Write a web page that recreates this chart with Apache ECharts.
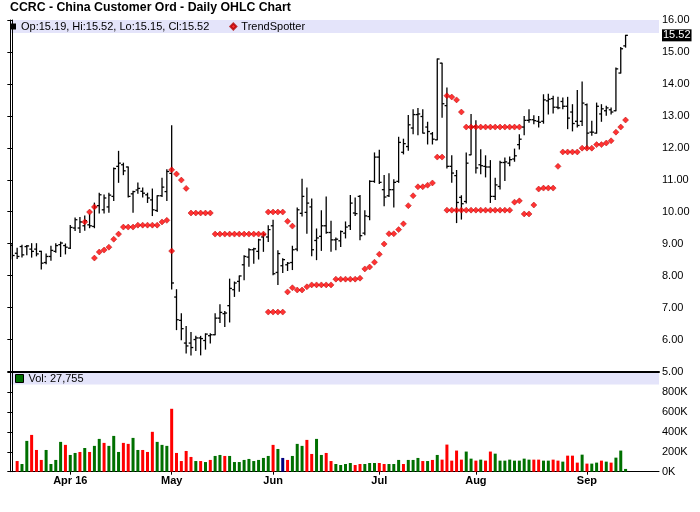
<!DOCTYPE html>
<html><head><meta charset="utf-8">
<script src="https://cdn.jsdelivr.net/npm/echarts@6/dist/echarts.min.js"></script>
<style>html,body{margin:0;padding:0;background:#fff}#c{width:700px;height:512px}</style>
</head><body><div id="c"></div>
<script>
const _ = null;
const dates = [
'2016-03-15','2016-03-16','2016-03-17','2016-03-18','2016-03-21','2016-03-22','2016-03-23','2016-03-24','2016-03-28','2016-03-29','2016-03-30','2016-03-31',
'2016-04-01','2016-04-04','2016-04-05','2016-04-06','2016-04-07','2016-04-08','2016-04-11','2016-04-12','2016-04-13','2016-04-14','2016-04-15','2016-04-18','2016-04-19','2016-04-20','2016-04-21','2016-04-22','2016-04-25','2016-04-26','2016-04-27','2016-04-28','2016-04-29',
'2016-05-02','2016-05-03','2016-05-04','2016-05-05','2016-05-06','2016-05-09','2016-05-10','2016-05-11','2016-05-12','2016-05-13','2016-05-16','2016-05-17','2016-05-18','2016-05-19','2016-05-20','2016-05-23','2016-05-24','2016-05-25','2016-05-26','2016-05-27','2016-05-31',
'2016-06-01','2016-06-02','2016-06-03','2016-06-06','2016-06-07','2016-06-08','2016-06-09','2016-06-10','2016-06-13','2016-06-14','2016-06-15','2016-06-16','2016-06-17','2016-06-20','2016-06-21','2016-06-22','2016-06-23','2016-06-24','2016-06-27','2016-06-28','2016-06-29','2016-06-30',
'2016-07-01','2016-07-05','2016-07-06','2016-07-07','2016-07-08','2016-07-11','2016-07-12','2016-07-13','2016-07-14','2016-07-15','2016-07-18','2016-07-19','2016-07-20','2016-07-21','2016-07-22','2016-07-25','2016-07-26','2016-07-27','2016-07-28','2016-07-29',
'2016-08-01','2016-08-02','2016-08-03','2016-08-04','2016-08-05','2016-08-08','2016-08-09','2016-08-10','2016-08-11','2016-08-12','2016-08-15','2016-08-16','2016-08-17','2016-08-18','2016-08-19','2016-08-22','2016-08-23','2016-08-24','2016-08-25','2016-08-26','2016-08-29','2016-08-30','2016-08-31',
'2016-09-01','2016-09-02','2016-09-06','2016-09-07','2016-09-08','2016-09-09','2016-09-12','2016-09-13','2016-09-14'
];
const opens = [
8.95,8.70,8.91,8.91,8.83,8.83,8.76,8.41,8.60,8.76,
8.97,8.94,8.86,9.49,9.49,9.56,9.59,9.54,10.19,10.06,
10.15,10.48,11.42,11.47,11.40,10.56,10.68,10.64,10.53,10.37,
10.04,10.50,10.63,11.20,7.33,6.60,5.89,5.89,6.00,6.05,
5.97,6.12,6.15,6.67,6.81,7.06,7.56,7.82,8.34,8.58,
8.81,8.76,9.21,9.21,9.56,8.10,8.31,8.34,8.41,8.83,
9.95,9.98,10.15,9.10,9.23,9.56,9.35,9.12,9.09,9.33,
9.56,9.96,10.48,9.33,9.85,10.95,11.71,10.69,10.50,10.69,
10.95,11.86,12.04,12.62,13.04,12.98,12.65,12.44,12.25,14.65,
13.32,11.42,11.13,10.45,10.32,11.78,12.67,11.47,11.42,11.40,
10.48,10.79,11.54,11.52,11.65,12.10,12.65,12.86,12.88,12.83,
12.83,13.47,13.54,13.27,13.45,13.30,13.12,12.83,12.83,13.35,
12.49,12.46,13.06,13.16,13.19,13.16,14.34,15.19
];
const highs = [
9.00,8.86,8.95,8.94,9.00,9.00,8.76,8.68,8.92,9.00,
9.05,8.99,9.57,9.80,9.82,9.87,9.92,10.27,10.58,10.52,
10.58,11.37,11.89,11.52,11.40,10.64,10.90,10.74,10.58,10.71,
10.50,11.05,11.31,12.69,7.56,6.81,6.41,6.22,6.10,6.10,
6.18,6.18,6.81,7.09,6.88,7.89,7.80,7.99,8.62,8.84,
8.86,9.14,9.33,9.56,9.73,8.78,8.53,8.41,8.92,10.12,
11.02,10.74,10.40,9.46,10.03,10.46,9.70,9.18,9.40,9.68,
10.51,10.43,10.51,10.03,10.97,11.84,11.92,11.13,11.19,11.00,
12.33,12.27,13.01,13.19,13.23,13.19,12.80,12.48,14.78,14.65,
13.87,11.75,11.29,10.50,11.84,13.04,12.85,11.94,11.75,11.60,
11.05,11.58,11.68,11.71,11.96,12.41,12.98,13.19,13.00,12.98,
13.66,13.68,13.61,13.58,13.56,13.58,13.35,13.79,14.06,13.37,
12.83,13.40,13.35,13.30,13.25,14.50,15.14,15.52
];
const lows = [
8.52,8.54,8.58,8.65,8.58,8.62,8.21,8.37,8.48,8.73,
8.60,8.68,8.85,9.41,9.35,9.42,9.50,9.50,9.96,9.96,
9.98,10.35,10.92,11.16,10.46,9.98,10.58,10.46,10.29,9.88,
10.01,10.48,10.35,7.58,6.31,5.99,5.58,5.52,5.66,5.52,
5.70,5.89,6.15,6.53,6.41,6.55,7.35,7.51,7.87,8.29,
8.39,8.52,8.76,9.07,8.03,7.72,8.10,8.16,8.19,8.78,
9.87,9.33,8.62,8.50,8.79,9.33,8.76,8.81,8.91,9.18,
9.44,9.88,9.12,9.28,9.75,10.92,10.88,10.19,10.48,10.15,
10.92,11.81,11.92,12.44,12.41,12.46,12.12,12.12,12.25,12.96,
11.37,10.92,9.66,9.77,10.27,11.78,11.21,11.19,11.09,10.29,
10.38,10.71,10.98,11.44,11.58,11.96,12.41,12.80,12.75,12.65,
12.77,13.06,13.09,13.22,13.22,12.60,12.53,12.65,12.70,11.99,
12.39,12.46,12.83,13.02,13.06,13.16,14.34,15.15
];
const closes = [
8.63,8.60,8.65,8.93,8.76,8.68,8.39,8.60,8.79,8.94,
9.02,8.89,9.51,9.75,9.68,9.72,9.56,10.15,10.53,10.43,
10.52,11.35,11.52,11.28,10.48,10.63,10.73,10.58,10.43,10.06,
10.50,10.77,11.26,7.77,6.62,6.34,5.80,5.75,6.05,6.03,
6.17,6.15,6.67,6.85,6.83,7.60,7.77,7.99,8.60,8.81,
8.84,9.12,9.28,9.44,8.06,8.69,8.50,8.39,8.81,10.06,
10.48,10.27,8.81,9.18,9.56,9.35,9.12,9.14,9.38,9.52,
10.27,9.94,9.25,9.87,10.95,11.71,10.92,10.46,10.69,10.92,
12.17,12.13,12.72,13.04,13.06,12.46,12.51,12.27,14.78,13.38,
11.42,11.21,10.29,10.25,11.52,12.65,11.37,11.44,11.40,10.48,
10.84,11.54,11.56,11.63,11.75,12.27,12.86,12.88,12.85,12.80,
13.50,13.52,13.27,13.25,13.30,12.93,12.76,12.70,13.40,12.46,
12.49,13.30,13.22,13.25,13.12,14.47,15.10,15.52
];
const trendSpotter = [
_,_,_,_,_,_,_,_,_,_,
_,_,_,_,_,9.68,9.99,8.55,8.74,8.80,
8.89,9.14,9.30,9.52,9.52,9.52,9.58,9.58,9.58,9.58,
9.58,9.68,9.73,11.31,11.18,10.99,10.73,9.96,9.96,9.96,
9.96,9.96,9.30,9.30,9.30,9.30,9.30,9.30,9.30,9.30,
9.30,9.30,9.30,9.99,9.99,9.99,9.99,9.70,9.55,7.55,
7.55,7.65,7.71,7.71,7.71,7.71,7.71,7.89,7.89,7.89,
7.89,7.89,7.92,8.21,8.27,8.42,8.67,8.99,9.31,9.31,
9.44,9.62,10.19,10.50,10.78,10.78,10.83,10.90,11.71,11.71,
13.63,13.59,13.50,13.12,12.65,12.65,12.65,12.65,12.65,12.65,
12.65,12.65,12.65,12.65,12.65,12.65,9.93,9.93,10.21,10.71,
10.74,10.74,10.74,11.42,11.87,11.87,11.87,11.87,11.99,11.99,
11.99,12.10,12.10,12.15,12.22,12.49,12.65,12.87
];
const trendSpotter2 = [
_,_,_,_,_,_,_,_,_,_,
_,_,_,_,_,_,_,10.15,_,_,
_,_,_,_,_,_,_,_,_,_,
_,_,_,8.77,_,_,_,_,_,_,
_,_,_,_,_,_,_,_,_,_,
_,_,_,6.86,6.86,6.86,6.86,7.49,7.62,_,
_,_,_,_,_,_,_,_,_,_,
_,_,_,_,_,_,_,_,_,_,
_,_,_,_,_,_,_,_,_,_,
10.05,10.05,10.05,10.05,10.05,10.05,10.05,10.05,10.05,10.05,
10.05,10.05,10.05,10.05,10.30,10.34,_,_,_,_,
_,_,_,_,_,_,_,_,_,_,
_,_,_,_,_,_,_,_
];
const volumes = [
_,107000,77000,309000,369000,218000,118000,218000,77000,118000,
299000,269000,168000,188000,198000,238000,198000,259000,329000,289000,
259000,359000,198000,289000,279000,339000,218000,218000,198000,400000,
299000,269000,259000,631000,188000,107000,208000,148000,107000,107000,
97000,118000,158000,168000,158000,158000,97000,97000,118000,128000,
107000,118000,138000,158000,269000,228000,138000,118000,158000,279000,
259000,319000,178000,329000,168000,188000,107000,77000,67000,77000,
87000,67000,77000,77000,87000,87000,87000,77000,77000,77000,
118000,77000,118000,118000,138000,107000,107000,118000,168000,121000,
272000,111000,212000,121000,202000,131000,111000,121000,111000,202000,
181000,111000,111000,121000,111000,111000,131000,121000,121000,121000,
111000,111000,121000,111000,101000,161000,161000,91000,171000,81000,
81000,91000,111000,101000,91000,141000,212000,27755
];
const volumeDir = [
'u','d','u','u','d','d','d','u','u','u',
'u','d','u','u','d','u','d','u','u','d',
'u','u','u','d','d','u','u','d','d','d',
'u','u','u','d','d','d','d','d','u','d',
'u','d','u','u','d','u','u','u','u','u',
'u','u','u','u','d','u','n','d','u','u',
'u','d','d','u','u','d','d','u','u','u',
'u','d','d','u','u','u','d','d','u','u',
'u','d','u','u','u','d','u','d','u','d',
'd','d','d','d','u','u','d','u','d','d',
'u','u','u','u','u','u','u','u','d','d',
'u','u','d','d','u','d','d','d','u','d',
'u','u','d','u','d','u','u','u'
];
const priceTicks = {min: 5, max: 16, interval: 1};
const volumeTicks = {min: 0, max: 1000000, interval: 200000};
const monthNames = ['Jan','Feb','Mar','Apr','May','Jun','Jul','Aug','Sep','Oct','Nov','Dec'];

// ---- layout / style ----
const FONT = '"Liberation Sans", Arial, Helvetica, sans-serif';
const L = 10, R = 41;
const P_TOP = 20, P_BOTTOM = 140.5;
const V_TOP = 372, V_BOTTOM = 40.3;
const UP = '#007000', DOWN = '#ff0000', FLAT = '#000080';
const X_MIN = -0.48, X_MAX = 133.92;

const N = dates.length;
const last = N - 1;
const monthStartLabel = {};
let firstMonth = true;
for (let i = 1; i < N; i++) {
  if (dates[i].slice(5, 7) !== dates[i - 1].slice(5, 7)) {
    const m = +dates[i].slice(5, 7);
    monthStartLabel[i] = monthNames[m - 1] + (firstMonth ? ' ' + dates[i].slice(2, 4) : '');
    firstMonth = false;
  }
}
const monthIdx = Object.keys(monthStartLabel).map(Number);

const ohlcData = dates.map((d, i) => [i, opens[i], highs[i], lows[i], closes[i]]);
const trendData = [];
trendSpotter.forEach((v, i) => { if (v != null) trendData.push([i, v]); });
trendSpotter2.forEach((v, i) => { if (v != null) trendData.push([i, v]); });
const dirColor = {u: UP, d: DOWN, n: FLAT};
const volData = volumes.map((v, i) => ({value: [i, v], itemStyle: {color: dirColor[volumeDir[i]]}}));

const ohlcName = 'Op:' + opens[last].toFixed(2) + ', Hi:' + highs[last].toFixed(2) +
  ', Lo:' + lows[last].toFixed(2) + ', Cl:' + closes[last].toFixed(2);
const volName = 'Vol: ' + volumes[last].toLocaleString('en-US');

function renderOHLC(params, api) {
  const i = api.value(0);
  const o = api.coord([i, api.value(1)]);
  const h = api.coord([i, api.value(2)]);
  const l = api.coord([i, api.value(3)]);
  const c = api.coord([i, api.value(4)]);
  const x = h[0];
  const t = 2.3;
  const st = {stroke: '#000', lineWidth: 1.3};
  return {type: 'group', children: [
    {type: 'line', shape: {x1: x, y1: h[1] - 0.5, x2: x, y2: l[1] + 0.5}, style: st},
    {type: 'line', shape: {x1: x - t, y1: o[1], x2: x, y2: o[1]}, style: st},
    {type: 'line', shape: {x1: x, y1: c[1], x2: x + t, y2: c[1]}, style: st}
  ]};
}

const chart = echarts.init(document.getElementById('c'));
const axisBlack = {show: true, lineStyle: {color: '#000', width: 1}};
chart.setOption({
  animation: false,
  backgroundColor: '#fff',
  textStyle: {fontFamily: FONT, color: '#000'},
  title: {
    text: 'CCRC - China Customer Ord - Daily OHLC Chart',
    left: 10, top: 2, padding: 0,
    textStyle: {fontSize: 12.3, fontWeight: 'bold', color: '#000', fontFamily: FONT}
  },
  graphic: [
    {type: 'rect', z: 0, shape: {x: L, y: P_TOP, width: 700 - L - R, height: 13}, style: {fill: '#e4e4fa'}},
    {type: 'rect', z: 0, shape: {x: L, y: V_TOP + 0.5, width: 700 - L - R, height: 12}, style: {fill: '#e4e4fa'}}
  ],
  legend: [
    {
      left: 10, top: 20, padding: 0, itemGap: 20, itemWidth: 6, itemHeight: 6, selectedMode: false,
      textStyle: {fontSize: 11, color: '#000', lineHeight: 13, fontFamily: FONT},
      data: [
        {name: ohlcName, icon: 'rect', itemStyle: {color: '#000'}},
        {name: 'TrendSpotter', icon: 'diamond', itemStyle: {color: '#ff0000'}}
      ]
    },
    {
      left: 15, top: 372, padding: 0, itemWidth: 8, itemHeight: 8, selectedMode: false,
      textStyle: {fontSize: 11, color: '#000', lineHeight: 13, fontFamily: FONT},
      data: [{name: volName, icon: 'rect', itemStyle: {color: UP, borderColor: '#000', borderWidth: 1}}]
    }
  ],
  grid: [
    {left: L, right: R, top: P_TOP, bottom: P_BOTTOM},
    {left: L, right: R, top: V_TOP, bottom: V_BOTTOM}
  ],
  xAxis: [
    {type: 'value', gridIndex: 0, min: X_MIN, max: X_MAX,
      axisLine: {show: true, onZero: false, lineStyle: {color: '#000', width: 2}},
      axisTick: {show: false}, axisLabel: {show: false}, splitLine: {show: false}},
    {type: 'value', gridIndex: 1, min: X_MIN, max: X_MAX,
      axisLine: {show: true, onZero: false, lineStyle: {color: '#000', width: 1}},
      axisTick: {show: true, customValues: monthIdx, length: 3, lineStyle: {color: '#000'}},
      axisLabel: {show: true, customValues: monthIdx, margin: 4, fontSize: 11, fontWeight: 'bold', color: '#000',
        fontFamily: FONT, formatter: v => monthStartLabel[Math.round(v)] || ''},
      splitLine: {show: false}}
  ],
  yAxis: [
    {type: 'value', gridIndex: 0, position: 'right', min: priceTicks.min, max: priceTicks.max, interval: priceTicks.interval,
      axisLine: axisBlack, axisTick: {show: true, inside: true, length: 5, lineStyle: {color: '#000'}},
      axisLabel: {margin: 3, fontSize: 11, color: '#000', fontFamily: FONT, formatter: v => v.toFixed(2)},
      splitLine: {show: false}},
    {type: 'value', gridIndex: 1, position: 'right', min: volumeTicks.min, max: volumeTicks.max, interval: volumeTicks.interval,
      axisLine: axisBlack, axisTick: {show: true, inside: true, length: 5, lineStyle: {color: '#000'}},
      axisLabel: {margin: 3, fontSize: 11, color: '#000', fontFamily: FONT,
        formatter: v => v >= volumeTicks.max ? '' : (v / 1000) + 'K'},
      splitLine: {show: false}},
    {type: 'value', gridIndex: 0, position: 'left', min: priceTicks.min, max: priceTicks.max,
      axisLine: axisBlack, axisTick: {show: false}, axisLabel: {show: false}, splitLine: {show: false}},
    {type: 'value', gridIndex: 1, position: 'left', min: volumeTicks.min, max: volumeTicks.max,
      axisLine: axisBlack, axisTick: {show: false}, axisLabel: {show: false}, splitLine: {show: false}}
  ],
  series: [
    {name: ohlcName, type: 'custom', xAxisIndex: 0, yAxisIndex: 0, renderItem: renderOHLC,
      itemStyle: {color: '#000'}, encode: {x: 0, y: [1, 2, 3, 4]}, data: ohlcData, z: 3},
    {name: 'TrendSpotter', type: 'scatter', xAxisIndex: 0, yAxisIndex: 0, symbol: 'diamond', symbolSize: 6,
      itemStyle: {color: '#ff0000', borderColor: '#b00000', borderWidth: 0.6}, data: trendData, z: 4},
    {name: 'lastClose', type: 'line', xAxisIndex: 0, yAxisIndex: 0, data: [], z: 5,
      markLine: {silent: true, symbol: 'none', animation: false,
        lineStyle: {color: 'rgba(0,0,0,0)', width: 1, type: 'solid'},
        data: [{yAxis: closes[last]}],
        label: {show: true, position: 'end', distance: 3, formatter: p => Number(p.value).toFixed(2),
          backgroundColor: '#000', color: '#fff', fontSize: 11, fontFamily: FONT, padding: [1, 1, 0, 1]}}},
    {name: volName, type: 'bar', xAxisIndex: 1, yAxisIndex: 1, barWidth: 3,
      itemStyle: {color: UP}, data: volData, z: 3}
  ]
});
</script>
</body></html>
